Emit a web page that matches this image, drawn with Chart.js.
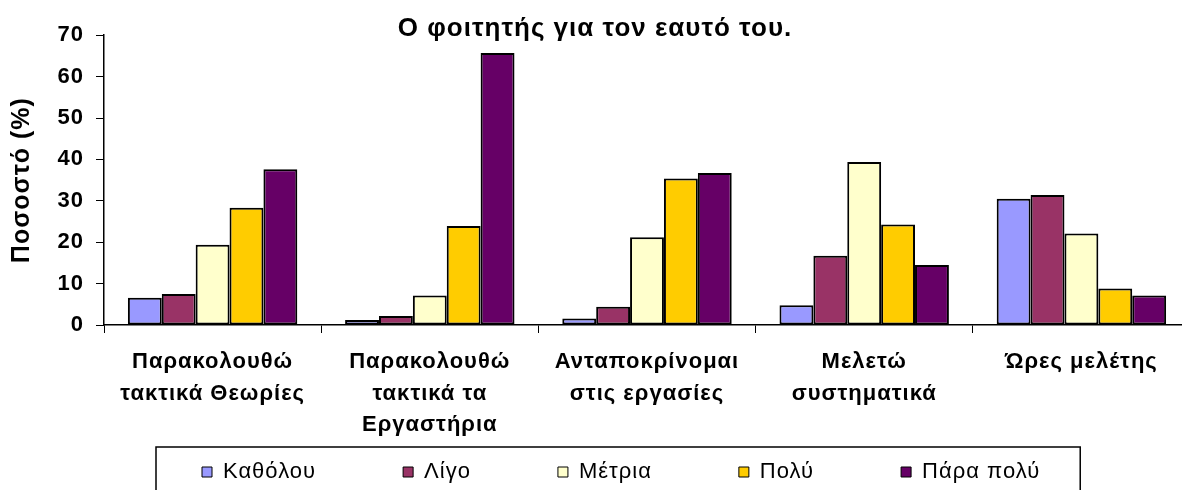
<!DOCTYPE html>
<html lang="el">
<head>
<meta charset="utf-8">
<title>Ο φοιτητής για τον εαυτό του</title>
<script src="https://cdn.jsdelivr.net/npm/chart.js@4.4.1/dist/chart.umd.min.js"></script>
<style>
  html, body { margin: 0; padding: 0; background: #fff; overflow: hidden; }
  #chart-wrap { position: relative; width: 1190px; height: 562px; }
</style>
</head>
<body>
<div id="chart-wrap"><canvas id="student-canvas"></canvas></div>
<script>
const categories = [
  ['Παρακολουθώ', 'τακτικά Θεωρίες'],
  ['Παρακολουθώ', 'τακτικά τα', 'Εργαστήρια'],
  ['Ανταποκρίνομαι', 'στις εργασίες'],
  ['Μελετώ', 'συστηματικά'],
  ['Ώρες μελέτης']
];
const answers = ['Καθόλου', 'Λίγο', 'Μέτρια', 'Πολύ', 'Πάρα πολύ'];
const notAtAll = [6.6, 1.2, 1.6, 4.8, 30.5];
const little = [7.5, 2.2, 4.4, 16.7, 31.4];
const moderate = [19.4, 7.1, 21.2, 39.4, 22.1];
const much = [28.3, 23.9, 35.4, 24.3, 8.8];
const veryMuch = [37.6, 65.7, 36.7, 14.5, 7.1];
const answerColors = ['#9999ff', '#993366', '#ffffcc', '#ffcc00', '#660066'];
const yMin = 0;
const yMax = 70;
const yStep = 10;

const fontFamily = 'Arial, "Liberation Sans", sans-serif';
const series = [notAtAll, little, moderate, much, veryMuch];

/* the spreadsheet fonts run a bit wider than Arial, space the letters out */
const wideText = {
  id: 'wideText',
  beforeUpdate(chart) { chart.ctx.letterSpacing = '1px'; },
  beforeDraw(chart) { chart.ctx.letterSpacing = '1px'; }
};

/* legend sits in a framed row under the category labels */
const legendFrame = {
  id: 'legendFrame',
  afterLayout(chart) {
    const lg = chart.legend;
    const pad = lg.options.labels.padding;
    // row starts at x=202 and sits 18px under the axis labels
    const firstX = (lg.left + pad + lg.right - lg.lineWidths[0]) / 2;
    const dx = 202 - firstX;
    const dy = 18 - pad;
    lg.left += dx;
    lg.right += dx;
    lg.top += dy;
    lg.bottom += dy;
  },
  afterDraw(chart) {
    const boxes = chart.legend.legendHitBoxes;
    if (!boxes || !boxes.length) return;
    const first = boxes[0];
    const last = boxes[boxes.length - 1];
    const left = first.left - 46;
    const right = last.left + last.width + 40;
    const ctx = chart.ctx;
    ctx.save();
    ctx.strokeStyle = '#000';
    ctx.lineWidth = 1.5;
    ctx.strokeRect(left, first.top - 14, right - left, chart.height);
    ctx.restore();
  }
};

let studentCanvas = document.getElementById('student-canvas');
let studentChart = new Chart(studentCanvas, {
  type: 'bar',
  data: {
    labels: categories,
    datasets: series.map((values, i) => ({
      label: answers[i],
      data: values,
      backgroundColor: answerColors[i],
      borderColor: '#000',
      borderWidth: 2,
      borderSkipped: false,
      categoryPercentage: 0.78,
      barPercentage: 1
    }))
  },
  options: {
    maintainAspectRatio: false,
    animation: false,
    layout: {
      padding: 0
    },
    scales: {
      x: {
        grid: { offset: true, drawOnChartArea: false, tickLength: 8, color: '#000', lineWidth: 1 },
        border: { color: '#000', width: 1.5 },
        ticks: {
          color: '#000',
          padding: 13,
          maxRotation: 0,
          autoSkip: false,
          font: { family: fontFamily, size: 22, weight: 'bold', lineHeight: 1.44 }
        },
        afterFit(scale) {
          scale.height = 118;
        }
      },
      y: {
        min: yMin,
        max: yMax,
        grid: { drawOnChartArea: false, tickLength: 8, color: '#000', lineWidth: 1 },
        border: { color: '#000', width: 1.5 },
        ticks: {
          stepSize: yStep,
          color: '#000',
          padding: 12,
          font: { family: fontFamily, size: 22, weight: 'bold' }
        },
        title: {
          display: true,
          text: 'Ποσοστό (%)',
          color: '#000',
          padding: { top: 7, bottom: 0 },
          font: { family: fontFamily, size: 25, weight: 'bold' }
        },
        afterFit(scale) {
          scale.width = 104;
        }
      }
    },
    plugins: {
      title: {
        display: true,
        text: 'Ο φοιτητής για τον εαυτό του.',
        color: '#000',
        padding: { top: 13, bottom: -9 },
        font: { family: fontFamily, size: 26, weight: 'bold', lineHeight: 1.2 }
      },
      legend: {
        position: 'bottom',
        labels: {
          color: '#000',
          boxWidth: 10,
          boxHeight: 10,
          padding: 87,
          font: { family: fontFamily, size: 22 },
          generateLabels(chart) {
            return Chart.defaults.plugins.legend.labels.generateLabels(chart)
              .map(item => Object.assign(item, { lineWidth: 1 }));
          }
        }
      },
      tooltip: { enabled: false }
    }
  },
  plugins: [wideText, legendFrame]
});
</script>
</body>
</html>
